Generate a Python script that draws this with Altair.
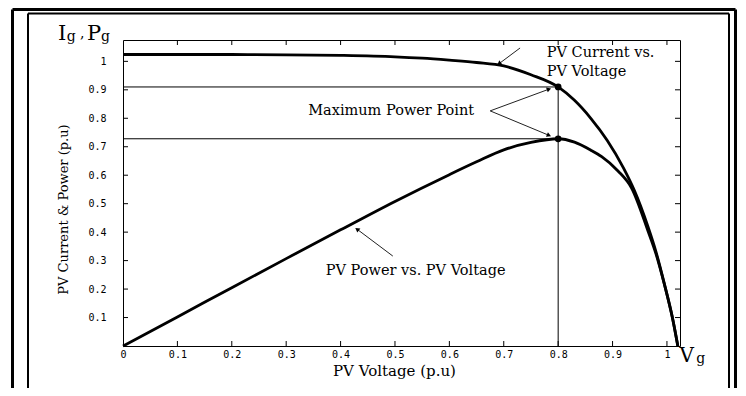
import math
import altair as alt
import pandas as pd

# ---------------- data ----------------
V_CUR = [0.0, 0.1, 0.2, 0.3, 0.4, 0.5, 0.55, 0.6, 0.65, 0.7, 0.75, 0.8,
         0.83, 0.86, 0.89, 0.92, 0.94, 0.965, 0.98, 0.995, 1.01, 1.02]
I_CUR = [1.024, 1.024, 1.024, 1.023, 1.021, 1.016, 1.011, 1.004, 0.996, 0.984, 0.953, 0.91,
         0.863, 0.80, 0.723, 0.626, 0.547, 0.42, 0.33, 0.22, 0.10, 0.0]

V_POW = [0.0, 0.1, 0.2, 0.3, 0.4, 0.5, 0.6, 0.65, 0.7, 0.75, 0.8,
         0.83, 0.86, 0.88, 0.91, 0.935, 0.965, 0.98, 0.995, 1.01, 1.02]
P_POW = [0.0, 0.102, 0.205, 0.307, 0.408, 0.508, 0.602, 0.647, 0.689, 0.715, 0.728,
         0.716, 0.688, 0.665, 0.615, 0.555, 0.405, 0.323, 0.219, 0.10, 0.0]

V_MPP = 0.8
I_MPP = 0.91
P_MPP = 0.728

X_TICKS = [0, 0.1, 0.2, 0.3, 0.4, 0.5, 0.6, 0.7, 0.8, 0.9, 1.0]
Y_TICKS = [0.1, 0.2, 0.3, 0.4, 0.5, 0.6, 0.7, 0.8, 0.9, 1.0]

X_MAX = 1.024
Y_MAX = 1.075
W, H = 557, 306
PAD = {"left": 115, "top": 32, "right": 58, "bottom": 42}

SERIF = "DejaVu Serif"
MONO = "DejaVu Sans Mono"

xs = alt.Scale(domain=[0, X_MAX], nice=False, zero=False)
ys = alt.Scale(domain=[0, Y_MAX], nice=False, zero=False)

xaxis = alt.Axis(values=X_TICKS, format="~g", ticks=False, domain=False, grid=False,
                 labelFont=MONO, labelFontSize=10, labelColor="black", labelPadding=3,
                 labelFlush=False, labelOverlap=False,
                 title="PV Voltage (p.u)", titleFont=SERIF, titleFontSize=15,
                 titleFontWeight="normal", titleColor="black",
                 titleX=271, titleY=24, titleAlign="center", titleBaseline="middle")
yaxis = alt.Axis(values=Y_TICKS, format="~g", ticks=False, domain=False, grid=False,
                 labelFont=MONO, labelFontSize=10, labelColor="black", labelPadding=17,
                 labelFlush=False, labelOverlap=False,
                 title="PV Current & Power (p.u)", titleFont=SERIF, titleFontSize=13,
                 titleFontWeight="normal", titleColor="black", titleAngle=-90,
                 titleX=-60, titleY=169, titleAlign="center", titleBaseline="middle")


def X(f):
    return alt.X(f, scale=xs, axis=xaxis)


def Y(f):
    return alt.Y(f, scale=ys, axis=yaxis)


# ---------------- curves ----------------
curves = pd.concat([
    pd.DataFrame({"v": V_CUR, "val": I_CUR, "series": "current"}),
    pd.DataFrame({"v": V_POW, "val": P_POW, "series": "power"}),
])
lines = alt.Chart(curves).mark_line(color="black", strokeWidth=2.8, interpolate="monotone").encode(
    x=X("v:Q"), y=Y("val:Q"), detail="series:N",
)

# ---------------- maximum power point guides ----------------
guides = pd.DataFrame({
    "x1": [0, 0, V_MPP],
    "x2": [V_MPP, V_MPP, V_MPP],
    "y1": [I_MPP, P_MPP, 0],
    "y2": [I_MPP, P_MPP, I_MPP],
})
guide_rules = alt.Chart(guides).mark_rule(color="black", strokeWidth=1).encode(
    x=X("x1:Q"), x2="x2:Q", y=Y("y1:Q"), y2="y2:Q",
)

dots = alt.Chart(pd.DataFrame({"v": [V_MPP, V_MPP], "val": [I_MPP, P_MPP]})).mark_circle(
    color="black", size=45, opacity=1).encode(x=X("v:Q"), y=Y("val:Q"))

# ---------------- inward ticks (MATLAB style box) ----------------
TX = 5 * X_MAX / W
TY = 5 * Y_MAX / H
tick_rows = []
for t in [t for t in X_TICKS if t > 0]:
    tick_rows.append({"x1": t, "x2": t, "y1": 0, "y2": TY})
    tick_rows.append({"x1": t, "x2": t, "y1": Y_MAX, "y2": Y_MAX - TY})
for t in Y_TICKS:
    tick_rows.append({"x1": 0, "x2": TX, "y1": t, "y2": t})
    tick_rows.append({"x1": X_MAX, "x2": X_MAX - TX, "y1": t, "y2": t})
ticks = alt.Chart(pd.DataFrame(tick_rows)).mark_rule(color="black", strokeWidth=1).encode(
    x=X("x1:Q"), x2="x2:Q", y=Y("y1:Q"), y2="y2:Q",
)

# ---------------- arrows ----------------
ARROW_TAIL_X = [0.730, 0.675, 0.675, 0.496]
ARROW_TAIL_Y = [1.047, 0.826, 0.826, 0.316]
ARROW_HEAD_X = [0.688, 0.787, 0.787, 0.427]
ARROW_HEAD_Y = [0.987, 0.905, 0.737, 0.415]

sx = W / X_MAX
sy = H / Y_MAX
shaft_rows, head_rows = [], []
for tx, ty, hx, hy in zip(ARROW_TAIL_X, ARROW_TAIL_Y, ARROW_HEAD_X, ARROW_HEAD_Y):
    dxp = (hx - tx) * sx
    dyp = -(hy - ty) * sy
    L = math.hypot(dxp, dyp)
    ux, uy = dxp / L, dyp / L
    ang = math.degrees(math.atan2(ux, -uy)) % 360
    back = 3.0
    cx = hx - back * ux / sx
    cy = hy + back * uy / sy
    shaft_rows.append({"x1": tx, "y1": ty, "x2": cx, "y2": cy})
    head_rows.append({"x": cx, "y": cy, "ang": ang})

shafts = alt.Chart(pd.DataFrame(shaft_rows)).mark_rule(color="#222", strokeWidth=1).encode(
    x=X("x1:Q"), x2="x2:Q", y=Y("y1:Q"), y2="y2:Q",
)
heads = alt.Chart(pd.DataFrame(head_rows)).mark_point(
    shape="triangle", filled=True, color="black", size=26, opacity=1).encode(
    x=X("x:Q"), y=Y("y:Q"), angle=alt.Angle("ang:Q", scale=None),
)

# ---------------- annotation texts ----------------
LEFT_TEXT = ["PV Current vs.", "PV Voltage"]
LEFT_X = [0.779, 0.779]
LEFT_Y = [1.029, 0.962]
CENTER_TEXT = ["Maximum Power Point", "PV Power vs. PV Voltage"]
CENTER_X = [0.493, 0.538]
CENTER_Y = [0.825, 0.263]

left_txt = alt.Chart(pd.DataFrame({"t": LEFT_TEXT, "x": LEFT_X, "y": LEFT_Y})).mark_text(
    align="left", baseline="middle", font=SERIF, fontSize=14.5, color="black").encode(
    x=X("x:Q"), y=Y("y:Q"), text="t:N")
center_txt = alt.Chart(pd.DataFrame({"t": CENTER_TEXT, "x": CENTER_X, "y": CENTER_Y})).mark_text(
    align="center", baseline="middle", font=SERIF, fontSize=14.5, color="black").encode(
    x=X("x:Q"), y=Y("y:Q"), text="t:N")

# axis symbols  I_g , P_g   and   V_g
SYM_TEXT = ["I", "g", ",", "P", "g", "V", "g"]
SYM_X = [-0.1195, -0.1035, -0.079, -0.0662, -0.0404, 1.023, 1.054]
SYM_Y = [1.075, 1.070, 1.082, 1.075, 1.070, -0.056, -0.058]
SYM_SIZE = [21, 14, 14, 21, 14, 20, 14]
sym_txt = alt.Chart(pd.DataFrame({"t": SYM_TEXT, "x": SYM_X, "y": SYM_Y, "s": SYM_SIZE})).mark_text(
    align="left", baseline="alphabetic", font=SERIF, color="black").encode(
    x=X("x:Q"), y=Y("y:Q"), text="t:N", size=alt.Size("s:Q", scale=None))

# ---------------- double page frame (decoration, drawn as open lines) ----------------
BOT = H + PAD["bottom"]
frame = pd.DataFrame({
    "x1": [-110.5, -110.5, 612.5, -95, -95, 606],
    "x2": [-110.5, 612.5, 612.5, -95, 606, 606],
    "y1": [-30.5, -30.5, -30.5, -26.5, -26.5, -26.5],
    "y2": [BOT, -30.5, BOT, BOT, -26.5, BOT],
    "w": [3, 3, 3, 2, 2, 2],
})
frame_lines = alt.Chart(frame).mark_rule(color="black").encode(
    x=alt.X("x1:Q", scale=None, axis=None), x2="x2:Q",
    y=alt.Y("y1:Q", scale=None, axis=None), y2="y2:Q",
    strokeWidth=alt.StrokeWidth("w:Q", scale=None),
)

chart = alt.layer(
    lines, guide_rules, ticks, dots, shafts, heads,
    left_txt, center_txt, sym_txt, frame_lines,
).resolve_scale(x="shared", y="shared").properties(
    width=W, height=H,
    autosize=alt.AutoSizeParams(type="none"),
    padding=PAD,
    background="white",
).configure_view(stroke="black", strokeWidth=1)

chart.save("out.html", embed_options={"renderer": "svg", "actions": False})
